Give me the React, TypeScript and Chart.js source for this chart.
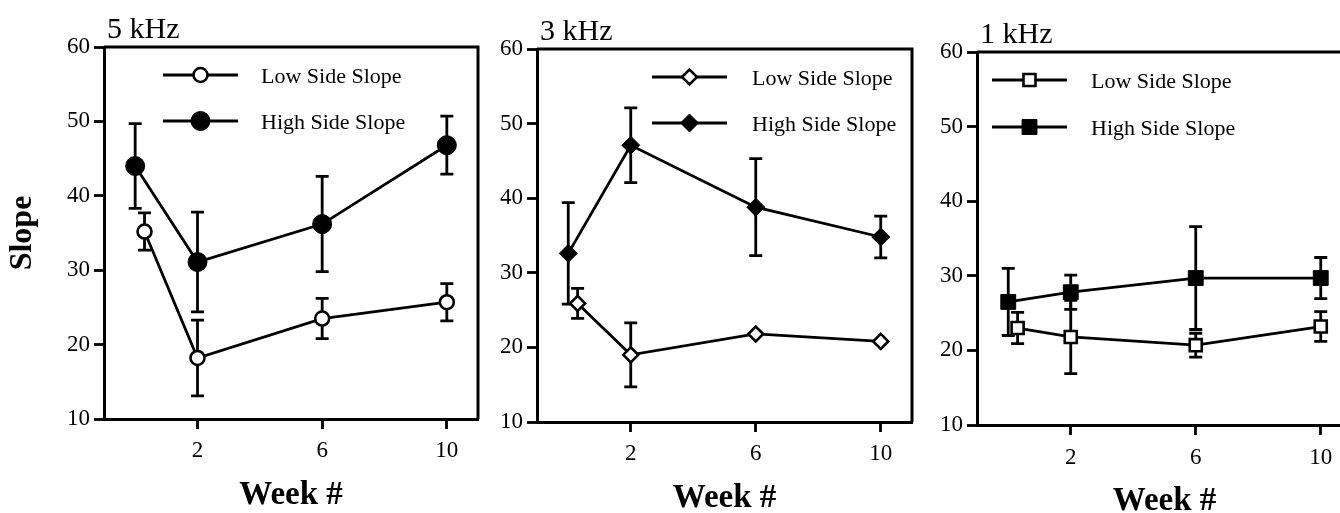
import React, { useEffect, useRef } from 'react';
import { Chart, registerables } from 'chart.js';
import { drawPoint } from 'chart.js/helpers';

Chart.register(...registerables);

const FONT = '"Liberation Serif", "Times New Roman", serif';

// Week of each measurement (the baseline "low" point is nudged right so it does not hide behind the "high" one)
const highWeeks = [0, 2, 6, 10];
const lowWeeks = [0.3, 2, 6, 10];
const xTickWeeks = [2, 6, 10];
const yTickValues = [10, 20, 30, 40, 50, 60];
const legendLabels = ['Low Side Slope', 'High Side Slope'];
const panelTitles = ['5 kHz', '3 kHz', '1 kHz'];

// 5 kHz
const low5k = [35.2, 18.2, 23.5, 25.7];
const low5kErr = [2.5, 5.1, 2.7, 2.5];
const high5k = [44.0, 31.1, 36.2, 46.8];
const high5kErr = [5.7, 6.7, 6.4, 3.9];

// 3 kHz
const low3k = [25.9, 19.0, 21.8, 20.8];
const low3kErr = [2.0, 4.3, 0, 0];
const high3k = [32.6, 47.1, 38.8, 34.8];
const high3kErr = [6.8, 5.0, 6.5, 2.8];

// 1 kHz
const low1k = [23.0, 21.8, 20.7, 23.2];
const low1kErr = [2.1, 4.9, 1.6, 2.0];
const high1k = [26.5, 27.8, 29.7, 29.7];
const high1kErr = [4.5, 2.3, 6.9, 2.75];

type Area = { left: number; top: number; right: number; bottom: number };
type PanelSpec = {
  title: string;
  low: number[];
  lowErr: number[];
  high: number[];
  highErr: number[];
  pointStyle: 'circle' | 'rectRot' | 'rect';
  lowRadius: number;
  highRadius: number;
  canvasLeft: number;
  canvasWidth: number;
  area: Area;
  legendLine: [number, number];
  legendText: number;
  legendRows: [number, number];
  yTitle: boolean;
  xTickPad: number;
  xTitlePad: number;
};

const H = 513;
const LINE_W = 2.8;

const panels: PanelSpec[] = [
  {
    title: panelTitles[0], low: low5k, lowErr: low5kErr, high: high5k, highErr: high5kErr,
    pointStyle: 'circle', lowRadius: 7, highRadius: 9.5,
    canvasLeft: 0, canvasWidth: 486,
    area: { left: 104, top: 47, right: 478, bottom: 419 },
    legendLine: [59, 134], legendText: 157, legendRows: [28, 74],
    yTitle: true, xTickPad: 8, xTitlePad: -2,
  },
  {
    title: panelTitles[1], low: low3k, lowErr: low3kErr, high: high3k, highErr: high3kErr,
    pointStyle: 'rectRot', lowRadius: 7.5, highRadius: 9,
    canvasLeft: 486, canvasWidth: 434,
    area: { left: 51, top: 49, right: 426, bottom: 422 },
    legendLine: [115, 190], legendText: 215, legendRows: [28, 74],
    yTitle: false, xTickPad: 8, xTitlePad: -5,
  },
  {
    title: panelTitles[2], low: low1k, lowErr: low1kErr, high: high1k, highErr: high1kErr,
    pointStyle: 'rect', lowRadius: 8.5, highRadius: 10.5,
    canvasLeft: 920, canvasWidth: 440,
    area: { left: 57, top: 52, right: 432, bottom: 425 },
    legendLine: [15, 90], legendText: 114, legendRows: [28, 75],
    yTitle: false, xTickPad: 9, xTitlePad: -8,
  },
];

const CAP = 6.5;

// Top/right frame and the error whiskers, drawn underneath the series
const frameAndErrors = {
  id: 'frameAndErrors',
  beforeDatasetsDraw(chart: any) {
    const { ctx, chartArea: ca, scales } = chart;
    ctx.save();
    ctx.strokeStyle = '#000';
    ctx.lineWidth = 3;
    ctx.beginPath();
    ctx.moveTo(ca.left, ca.top);
    ctx.lineTo(ca.right, ca.top);
    ctx.lineTo(ca.right, ca.bottom);
    ctx.stroke();

    ctx.lineWidth = LINE_W;
    chart.data.datasets.forEach((ds: any) => {
      ds.data.forEach((p: { x: number; y: number }, i: number) => {
        const e = ds.errors[i];
        if (!e) return;
        const x = scales.x.getPixelForValue(p.x);
        const y1 = scales.y.getPixelForValue(p.y + e);
        const y2 = scales.y.getPixelForValue(p.y - e);
        ctx.beginPath();
        ctx.moveTo(x, y1);
        ctx.lineTo(x, y2);
        ctx.moveTo(x - CAP, y1);
        ctx.lineTo(x + CAP, y1);
        ctx.moveTo(x - CAP, y2);
        ctx.lineTo(x + CAP, y2);
        ctx.stroke();
      });
    });
    ctx.restore();
  },
};

// Panel heading and the in-plot key (line with its marker in the middle)
const keyAndHeading = {
  id: 'keyAndHeading',
  afterDatasetsDraw(chart: any, _args: any, opts: any) {
    const { ctx, chartArea: ca } = chart;
    ctx.save();
    chart.data.datasets.forEach((ds: any, i: number) => {
      const y = ca.top + opts.rows[i];
      const x1 = ca.left + opts.line[0];
      const x2 = ca.left + opts.line[1];
      ctx.strokeStyle = '#000';
      ctx.lineWidth = LINE_W;
      ctx.beginPath();
      ctx.moveTo(x1, y);
      ctx.lineTo(x2, y);
      ctx.stroke();
      ctx.fillStyle = ds.pointBackgroundColor;
      ctx.strokeStyle = '#000';
      ctx.lineWidth = ds.pointBorderWidth;
      drawPoint(
        ctx,
        { pointStyle: ds.pointStyle, radius: ds.pointRadius, rotation: 0, borderWidth: ds.pointBorderWidth } as any,
        (x1 + x2) / 2,
        y
      );
      ctx.fillStyle = '#000';
      ctx.font = `22px ${FONT}`;
      ctx.textAlign = 'left';
      ctx.textBaseline = 'middle';
      ctx.fillText(ds.label, ca.left + opts.text, y + 2);
    });
    ctx.fillStyle = '#000';
    ctx.font = `30px ${FONT}`;
    ctx.textAlign = 'left';
    ctx.textBaseline = 'alphabetic';
    ctx.fillText(opts.title, ca.left + 3, ca.top - 9);
    ctx.restore();
  },
};

function buildChart(canvas: HTMLCanvasElement, p: PanelSpec) {
  const tickFont = { family: FONT, size: 23 };
  const grid = {
    drawOnChartArea: false,
    drawTicks: true,
    tickLength: 10,
    tickWidth: 2.8,
    tickColor: '#000',
    color: '#000',
  };
  const border = { display: true, color: '#000', width: 3 };
  const mk = (label: string, weeks: number[], vals: number[], errs: number[], filled: boolean) => ({
    label,
    data: weeks.map((w, i) => ({ x: w, y: vals[i] })),
    errors: errs,
    borderColor: '#000',
    borderWidth: LINE_W,
    tension: 0,
    pointStyle: p.pointStyle,
    pointRadius: filled ? p.highRadius : p.lowRadius,
    pointHoverRadius: filled ? p.highRadius : p.lowRadius,
    pointBackgroundColor: filled ? '#000' : '#fff',
    pointBorderColor: '#000',
    pointBorderWidth: filled ? 1 : 2.6,
  });

  return new Chart(canvas, {
    type: 'line',
    data: {
      datasets: [
        mk(legendLabels[0], lowWeeks, p.low, p.lowErr, false),
        mk(legendLabels[1], highWeeks, p.high, p.highErr, true),
      ] as any,
    },
    options: {
      animation: false,
      responsive: false,
      maintainAspectRatio: false,
      devicePixelRatio: 1,
      events: [],
      layout: {
        autoPadding: false,
        padding: { left: 0, top: p.area.top, right: p.canvasWidth - p.area.right, bottom: 0 },
      },
      plugins: {
        legend: { display: false },
        tooltip: { enabled: false },
        title: { display: false },
        keyAndHeading: { rows: p.legendRows, line: p.legendLine, text: p.legendText, title: p.title },
      } as any,
      scales: {
        x: {
          type: 'linear',
          min: -1,
          max: 11,
          afterBuildTicks: (s: any) => {
            s.ticks = xTickWeeks.map((v) => ({ value: v }));
          },
          afterFit: (s: any) => {
            s.height = H - p.area.bottom;
          },
          ticks: { font: tickFont, color: '#000', padding: p.xTickPad, maxRotation: 0 },
          grid,
          border,
          title: {
            display: true,
            text: 'Week #',
            color: '#000',
            font: { family: FONT, size: 33, weight: 'bold' },
            padding: { top: 0, bottom: p.xTitlePad },
          },
        },
        y: {
          type: 'linear',
          min: 10,
          max: 60,
          afterBuildTicks: (s: any) => {
            s.ticks = yTickValues.map((v) => ({ value: v }));
          },
          afterFit: (s: any) => {
            s.width = p.area.left;
          },
          ticks: { font: tickFont, color: '#000', padding: 4 },
          grid,
          border,
          title: p.yTitle
            ? {
                display: true,
                text: 'Slope',
                color: '#000',
                font: { family: FONT, size: 32, weight: 'bold' },
                padding: { top: 4, bottom: 0 },
              }
            : { display: false },
        },
      } as any,
    },
    plugins: [frameAndErrors, keyAndHeading],
  });
}

export default function App() {
  const refs = useRef<(HTMLCanvasElement | null)[]>([]);

  useEffect(() => {
    const charts = panels.map((p, i) => buildChart(refs.current[i] as HTMLCanvasElement, p));
    return () => charts.forEach((c) => c.destroy());
  }, []);

  return (
    <div
      style={{
        position: 'fixed',
        left: 0,
        top: 0,
        width: 1340,
        height: H,
        overflow: 'hidden',
        background: '#fff',
      }}
    >
      {panels.map((p, i) => (
        <canvas
          key={p.title}
          ref={(el) => {
            refs.current[i] = el;
          }}
          width={p.canvasWidth}
          height={H}
          style={{ position: 'absolute', left: p.canvasLeft, top: 0, width: p.canvasWidth, height: H }}
        />
      ))}
    </div>
  );
}
